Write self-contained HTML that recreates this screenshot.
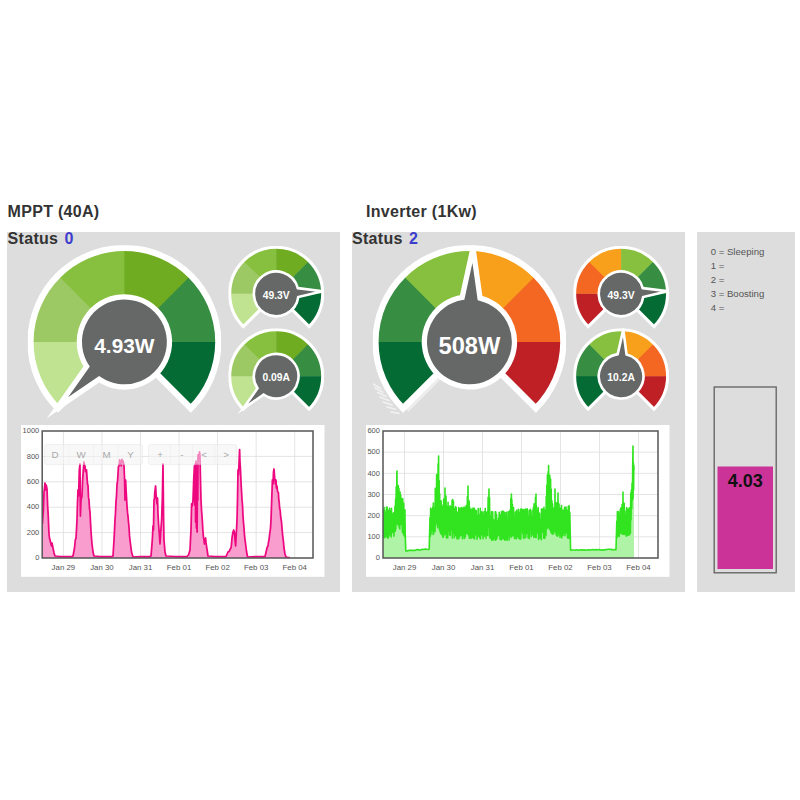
<!DOCTYPE html>
<html><head><meta charset="utf-8"><title>Dashboard</title>
<style>
html,body{margin:0;padding:0;background:#fff;}
body{width:800px;height:800px;position:relative;overflow:hidden;font-family:"Liberation Sans",sans-serif;}
.panel{position:absolute;background:#ddd;top:231.8px;height:359.8px;}
.h{position:absolute;font-weight:bold;font-size:16px;color:#333;white-space:nowrap;line-height:16px;letter-spacing:0.3px;}
.h b{color:#3d3dcc;margin-left:6.2px;}
.legend{position:absolute;left:710.7px;top:245.3px;font-size:9.6px;line-height:13.85px;color:#555;white-space:nowrap;}
svg{position:absolute;left:0;top:0;}
svg text{font-family:"Liberation Sans",sans-serif;}
.val{z-index:2;position:absolute;left:717.5px;width:55.5px;top:471.7px;text-align:center;font-weight:bold;font-size:18px;line-height:18px;color:#111;}
</style></head><body>
<div class="panel" style="left:7px;width:332.5px"></div>
<div class="panel" style="left:352px;width:332.5px"></div>
<div class="panel" style="left:697px;width:98px"></div>
<div class="h" style="left:7.6px;top:203.6px">MPPT (40A)</div>
<div class="h" style="left:366px;top:203.6px">Inverter (1Kw)</div>
<div class="h" style="left:7.6px;top:231px">Status<b>0</b></div>
<div class="h" style="left:352px;top:231px">Status<b>2</b></div>
<div class="legend">0 = Sleeping<br>1 =<br>2 =<br>3 = Boosting<br>4 =</div>
<div class="val">4.03</div>
<svg width="800" height="800" viewBox="0 0 800 800">
<rect x="717.5" y="466.5" width="55.5" height="102.5" fill="#cc3399"/><rect x="714.2" y="387" width="62" height="185.8" fill="none" stroke="#606060" stroke-width="1.3"/>
<clipPath id="gc1"><rect x="27.68" y="245.18" width="193.43" height="193.43"/></clipPath><g clip-path="url(#gc1)">
<path d="M124.4 341.9L58 408.3A93.9 93.9 0 0 1 30.51 340.92Z" fill="#c0e392"/>
<path d="M124.4 341.9L30.5 341.9A93.9 93.9 0 0 1 58.7 274.81Z" fill="#9dc965"/>
<path d="M124.4 341.9L58 275.5A93.9 93.9 0 0 1 125.38 248.01Z" fill="#87c03f"/>
<path d="M124.4 341.9L124.4 248A93.9 93.9 0 0 1 191.49 276.2Z" fill="#70ac21"/>
<path d="M124.4 341.9L190.8 275.5A93.9 93.9 0 0 1 218.29 342.88Z" fill="#378d42"/>
<path d="M124.4 341.9L218.3 341.9A93.9 93.9 0 0 1 190.1 408.99Z" fill="#046b34"/>
<path d="M58 408.3A93.9 93.9 0 1 1 190.8 408.3L124.4 341.9Z" fill="none" stroke="#fff" stroke-width="6.2" stroke-linejoin="miter" stroke-miterlimit="10"/>

<path d="M99.17 379.25L57.43 407.72L86.62 366.47A45.07 45.07 0 1 1 99.17 379.25Z" fill="#666867" stroke="#fff" stroke-width="5.27" stroke-linejoin="miter" stroke-miterlimit="10"/>
<text x="124.4" y="352.51" font-size="20.85" font-weight="bold" fill="#fff" text-anchor="middle">4.93W</text>
</g>
<clipPath id="gc2"><rect x="228.3" y="245.91" width="95.79" height="95.79"/></clipPath><g clip-path="url(#gc2)">
<path d="M276.2 293.8L243.32 326.68A46.5 46.5 0 0 1 229.7 293.31Z" fill="#c0e392"/>
<path d="M276.2 293.8L229.7 293.8A46.5 46.5 0 0 1 243.67 260.58Z" fill="#9dc965"/>
<path d="M276.2 293.8L243.32 260.92A46.5 46.5 0 0 1 276.69 247.3Z" fill="#87c03f"/>
<path d="M276.2 293.8L276.2 247.3A46.5 46.5 0 0 1 309.42 261.27Z" fill="#70ac21"/>
<path d="M276.2 293.8L309.08 260.92A46.5 46.5 0 0 1 322.7 294.29Z" fill="#378d42"/>
<path d="M276.2 293.8L322.7 293.8A46.5 46.5 0 0 1 308.73 327.02Z" fill="#046b34"/>
<path d="M243.32 326.68A46.5 46.5 0 1 1 309.08 326.68L276.2 293.8Z" fill="none" stroke="#fff" stroke-width="3.1" stroke-linejoin="miter" stroke-miterlimit="10"/>

<path d="M297.8 288.17L322.63 291.24L298.29 297.03A22.32 22.32 0 1 1 297.8 288.17Z" fill="#666867" stroke="#fff" stroke-width="2.63" stroke-linejoin="miter" stroke-miterlimit="10"/>
<text x="276.2" y="299.05" font-size="10.32" font-weight="bold" fill="#fff" text-anchor="middle">49.3V</text>
</g>
<clipPath id="gc3"><rect x="228.3" y="328.31" width="95.79" height="95.79"/></clipPath><g clip-path="url(#gc3)">
<path d="M276.2 376.2L243.32 409.08A46.5 46.5 0 0 1 229.7 375.71Z" fill="#c0e392"/>
<path d="M276.2 376.2L229.7 376.2A46.5 46.5 0 0 1 243.67 342.98Z" fill="#9dc965"/>
<path d="M276.2 376.2L243.32 343.32A46.5 46.5 0 0 1 276.69 329.7Z" fill="#87c03f"/>
<path d="M276.2 376.2L276.2 329.7A46.5 46.5 0 0 1 309.42 343.67Z" fill="#70ac21"/>
<path d="M276.2 376.2L309.08 343.32A46.5 46.5 0 0 1 322.7 376.69Z" fill="#378d42"/>
<path d="M276.2 376.2L322.7 376.2A46.5 46.5 0 0 1 308.73 409.42Z" fill="#046b34"/>
<path d="M243.32 409.08A46.5 46.5 0 1 1 309.08 409.08L276.2 376.2Z" fill="none" stroke="#fff" stroke-width="3.1" stroke-linejoin="miter" stroke-miterlimit="10"/>

<path d="M263.67 394.67L242.98 408.73L257.47 388.34A22.32 22.32 0 1 1 263.67 394.67Z" fill="#666867" stroke="#fff" stroke-width="2.63" stroke-linejoin="miter" stroke-miterlimit="10"/>
<text x="276.2" y="381.45" font-size="10.32" font-weight="bold" fill="#fff" text-anchor="middle">0.09A</text>
</g>
<clipPath id="gc4"><rect x="372.68" y="245.18" width="193.43" height="193.43"/></clipPath><g clip-path="url(#gc4)">
<path d="M469.4 341.9L403 408.3A93.9 93.9 0 0 1 375.51 340.92Z" fill="#046b34"/>
<path d="M469.4 341.9L375.5 341.9A93.9 93.9 0 0 1 403.7 274.81Z" fill="#378d42"/>
<path d="M469.4 341.9L403 275.5A93.9 93.9 0 0 1 470.38 248.01Z" fill="#87c03f"/>
<path d="M469.4 341.9L469.4 248A93.9 93.9 0 0 1 536.49 276.2Z" fill="#f8a01b"/>
<path d="M469.4 341.9L535.8 275.5A93.9 93.9 0 0 1 563.29 342.88Z" fill="#f46722"/>
<path d="M469.4 341.9L563.3 341.9A93.9 93.9 0 0 1 535.1 408.99Z" fill="#bf2025"/>
<path d="M403 408.3A93.9 93.9 0 1 1 535.8 408.3L469.4 341.9Z" fill="none" stroke="#fff" stroke-width="6.2" stroke-linejoin="miter" stroke-miterlimit="10"/>
<g stroke="#fff" fill="none" stroke-linecap="round"><g stroke-width="1.7" stroke-opacity="0.6"><path d="M373 384L380.5 388.3"/><path d="M375 388L383 392.2"/><path d="M377.5 392.3L386 396.3"/><path d="M380 397L389 400.5"/><path d="M383 402L392 405"/><path d="M387 407L395.5 409.2"/><path d="M391 412L399 413.3"/></g><path d="M440.5 376.5L407 410" stroke-width="4.5" stroke-opacity="0.5" stroke-linecap="butt"/></g>
<path d="M462.15 297.42L473 248.07L480.04 298.1A45.07 45.07 0 1 1 462.15 297.42Z" fill="#666867" stroke="#fff" stroke-width="5.27" stroke-linejoin="miter" stroke-miterlimit="10"/>
<text x="469.4" y="353.9" font-size="23.7" font-weight="bold" fill="#fff" text-anchor="middle">508W</text>
</g>
<clipPath id="gc5"><rect x="573.21" y="245.91" width="95.79" height="95.79"/></clipPath><g clip-path="url(#gc5)">
<path d="M621.1 293.8L588.22 326.68A46.5 46.5 0 0 1 574.6 293.31Z" fill="#bf2025"/>
<path d="M621.1 293.8L574.6 293.8A46.5 46.5 0 0 1 588.57 260.58Z" fill="#f46722"/>
<path d="M621.1 293.8L588.22 260.92A46.5 46.5 0 0 1 621.59 247.3Z" fill="#f8a01b"/>
<path d="M621.1 293.8L621.1 247.3A46.5 46.5 0 0 1 654.32 261.27Z" fill="#87c03f"/>
<path d="M621.1 293.8L653.98 260.92A46.5 46.5 0 0 1 667.6 294.29Z" fill="#378d42"/>
<path d="M621.1 293.8L667.6 293.8A46.5 46.5 0 0 1 653.63 327.02Z" fill="#046b34"/>
<path d="M588.22 326.68A46.5 46.5 0 1 1 653.98 326.68L621.1 293.8Z" fill="none" stroke="#fff" stroke-width="3.1" stroke-linejoin="miter" stroke-miterlimit="10"/>

<path d="M642.7 288.17L667.53 291.24L643.19 297.03A22.32 22.32 0 1 1 642.7 288.17Z" fill="#666867" stroke="#fff" stroke-width="2.63" stroke-linejoin="miter" stroke-miterlimit="10"/>
<text x="621.1" y="299.05" font-size="10.32" font-weight="bold" fill="#fff" text-anchor="middle">49.3V</text>
</g>
<clipPath id="gc6"><rect x="573.21" y="328.31" width="95.79" height="95.79"/></clipPath><g clip-path="url(#gc6)">
<path d="M621.1 376.2L588.22 409.08A46.5 46.5 0 0 1 574.6 375.71Z" fill="#046b34"/>
<path d="M621.1 376.2L574.6 376.2A46.5 46.5 0 0 1 588.57 342.98Z" fill="#378d42"/>
<path d="M621.1 376.2L588.22 343.32A46.5 46.5 0 0 1 621.59 329.7Z" fill="#87c03f"/>
<path d="M621.1 376.2L621.1 329.7A46.5 46.5 0 0 1 654.32 343.67Z" fill="#f8a01b"/>
<path d="M621.1 376.2L653.98 343.32A46.5 46.5 0 0 1 667.6 376.69Z" fill="#f46722"/>
<path d="M621.1 376.2L667.6 376.2A46.5 46.5 0 0 1 653.63 409.42Z" fill="#bf2025"/>
<path d="M588.22 409.08A46.5 46.5 0 1 1 653.98 409.08L621.1 376.2Z" fill="none" stroke="#fff" stroke-width="3.1" stroke-linejoin="miter" stroke-miterlimit="10"/>

<path d="M617.7 354.14L623.29 329.75L626.56 354.56A22.32 22.32 0 1 1 617.7 354.14Z" fill="#666867" stroke="#fff" stroke-width="2.63" stroke-linejoin="miter" stroke-miterlimit="10"/>
<text x="621.1" y="381.45" font-size="10.32" font-weight="bold" fill="#fff" text-anchor="middle">10.2A</text>
</g>
<rect x="21" y="425" width="303.5" height="151.8" fill="#fff"/>
<path d="M42.2 532.6H313M42.2 507.2H313M42.2 481.8H313M42.2 456.4H313M63.4 431V558M101.95 431V558M140.5 431V558M179.05 431V558M217.6 431V558M256.15 431V558M294.7 431V558" stroke="#ddd" stroke-width="0.8" fill="none"/>
<clipPath id="cc7"><rect x="42.2" y="431" width="270.8" height="127"/></clipPath><g clip-path="url(#cc7)">
<path d="M42.4 524L42.9 516.73L43.4 510L44 492L44.5 488.09L45 483L45.6 490L46.2 485L47 489L47.6 505L48.2 515L49 534L49.5 538.25L50 540L50.5 541.92L51 544L51.6 546L52 543L52.5 545.51L53 548L54 553L55 556L60 556.5L72 556.5L73 556L74.5 548L75.3 540L76 538L76.5 529.35L77 520L77.5 502.66L78 490L78.6 496L79.3 470L80 464L80.4 516L81 500L81.5 498.1L82 496L82.6 480L83.3 470L84 462L84.5 465.71L85 466L85.5 471.69L86 470L86.5 469.93L87 477.17L87.5 484L88 485.4L88.5 497.41L89 500L89.5 508.71L90 511.89L90.5 522L91 531.27L91.5 538.05L92 544L93 552L94 556L100 556.5L112 556.5L113 556L114 540L114.5 530.6L115 520L115.5 512.74L116 501.41L116.5 496L117 483.96L117.5 481.64L118 474L118.4 466.7L118.8 466.18L119.2 464.75L119.6 459.95L120 464L120.4 462.6L120.8 461.36L121.2 465.88L121.6 460.58L122 459.4L122.5 462.12L123 461L123.5 463.5L124 466L124.6 480L125 500L125.6 480L126.2 492L127 506L127.5 512.39L128 516.42L128.5 522L129 527.07L129.5 535.67L130 540L131.5 552L133 557L140 556.5L150 556.5L151 556L152 544L152.5 536.6L153 526L153.5 530L154 500L154.4 498.95L154.8 492L155.6 486L156.3 498L157 504L157.5 498L158 514L158.5 523.05L159 530L159.5 536.46L160 544L160.6 534L161 528L161.6 520L162.3 500L163 464L163.6 520L164 540L165 552L166 556L175 556.5L187 556.5L188.5 555L190 550L190.5 539.32L191 530L191.6 504L192.3 506L193 500L193.7 480L194.4 466L194.8 505L195.2 464L195.6 522L196 461L196.4 528L196.8 463L197.1 532L197.5 468L197.8 500L198 455L198.5 454.53L199 460L199.5 451.98L200 456L200.5 480L201 500L201.5 509.86L202 516L202.5 523.53L203 532L203.47 537.07L203.93 539.71L204.4 544L205 540L205.6 538L206 542.4L206.4 545.31L206.8 548L208 556L215 556.5L226 556.5L228 552L229.5 551L230 549.44L230.5 548.63L231 548L231.5 543.86L232 538L232.5 534.9L233 532L233.7 530L234.4 532L235 540L235.6 546L236.3 534L237 520L237.5 500L238 470L238.4 474.99L238.8 468L239.6 449.6L240 462L240.4 468L241.2 486L241.6 492.07L242 500L242.5 505.01L243 516L243.5 522.65L244 528L244.4 533.97L244.8 538L245.6 544L246.6 552L247.6 557L255 556.5L265 556.5L267 548L267.5 546.65L268 546L268.5 542.13L269 540L269.5 535.48L270 532L270.5 528.08L271 520L271.7 500L272.4 480L273 484L273.5 472L274 469L274.7 478L275.4 484L276 480L276.4 488L277 486L277.5 491.49L278 492L278.4 492.68L278.8 500L279.2 502.08L279.6 508L280.2 510.49L280.8 518L281.4 520.84L282 528L282.5 534.04L283 538L283.5 542.32L284 548L285 554L286 557L288 557.5L290 557.6L290 558L42.4 558Z" fill="#f99dce"/>
<path d="M42.4 524L42.9 516.73L43.4 510L44 492L44.5 488.09L45 483L45.6 490L46.2 485L47 489L47.6 505L48.2 515L49 534L49.5 538.25L50 540L50.5 541.92L51 544L51.6 546L52 543L52.5 545.51L53 548L54 553L55 556L60 556.5L72 556.5L73 556L74.5 548L75.3 540L76 538L76.5 529.35L77 520L77.5 502.66L78 490L78.6 496L79.3 470L80 464L80.4 516L81 500L81.5 498.1L82 496L82.6 480L83.3 470L84 462L84.5 465.71L85 466L85.5 471.69L86 470L86.5 469.93L87 477.17L87.5 484L88 485.4L88.5 497.41L89 500L89.5 508.71L90 511.89L90.5 522L91 531.27L91.5 538.05L92 544L93 552L94 556L100 556.5L112 556.5L113 556L114 540L114.5 530.6L115 520L115.5 512.74L116 501.41L116.5 496L117 483.96L117.5 481.64L118 474L118.4 466.7L118.8 466.18L119.2 464.75L119.6 459.95L120 464L120.4 462.6L120.8 461.36L121.2 465.88L121.6 460.58L122 459.4L122.5 462.12L123 461L123.5 463.5L124 466L124.6 480L125 500L125.6 480L126.2 492L127 506L127.5 512.39L128 516.42L128.5 522L129 527.07L129.5 535.67L130 540L131.5 552L133 557L140 556.5L150 556.5L151 556L152 544L152.5 536.6L153 526L153.5 530L154 500L154.4 498.95L154.8 492L155.6 486L156.3 498L157 504L157.5 498L158 514L158.5 523.05L159 530L159.5 536.46L160 544L160.6 534L161 528L161.6 520L162.3 500L163 464L163.6 520L164 540L165 552L166 556L175 556.5L187 556.5L188.5 555L190 550L190.5 539.32L191 530L191.6 504L192.3 506L193 500L193.7 480L194.4 466L194.8 505L195.2 464L195.6 522L196 461L196.4 528L196.8 463L197.1 532L197.5 468L197.8 500L198 455L198.5 454.53L199 460L199.5 451.98L200 456L200.5 480L201 500L201.5 509.86L202 516L202.5 523.53L203 532L203.47 537.07L203.93 539.71L204.4 544L205 540L205.6 538L206 542.4L206.4 545.31L206.8 548L208 556L215 556.5L226 556.5L228 552L229.5 551L230 549.44L230.5 548.63L231 548L231.5 543.86L232 538L232.5 534.9L233 532L233.7 530L234.4 532L235 540L235.6 546L236.3 534L237 520L237.5 500L238 470L238.4 474.99L238.8 468L239.6 449.6L240 462L240.4 468L241.2 486L241.6 492.07L242 500L242.5 505.01L243 516L243.5 522.65L244 528L244.4 533.97L244.8 538L245.6 544L246.6 552L247.6 557L255 556.5L265 556.5L267 548L267.5 546.65L268 546L268.5 542.13L269 540L269.5 535.48L270 532L270.5 528.08L271 520L271.7 500L272.4 480L273 484L273.5 472L274 469L274.7 478L275.4 484L276 480L276.4 488L277 486L277.5 491.49L278 492L278.4 492.68L278.8 500L279.2 502.08L279.6 508L280.2 510.49L280.8 518L281.4 520.84L282 528L282.5 534.04L283 538L283.5 542.32L284 548L285 554L286 557L288 557.5L290 557.6" fill="none" stroke="#ee0880" stroke-width="1.75" stroke-linejoin="round"/></g>
<rect x="42.2" y="431" width="270.8" height="127" fill="none" stroke="#555" stroke-width="1.5"/>
<g font-size="7.85" fill="#545454">
<text x="39.3" y="560.2" text-anchor="end" font-size="7.5">0</text>
<text x="39.3" y="534.8" text-anchor="end" font-size="7.5">200</text>
<text x="39.3" y="509.4" text-anchor="end" font-size="7.5">400</text>
<text x="39.3" y="484" text-anchor="end" font-size="7.5">600</text>
<text x="39.3" y="458.6" text-anchor="end" font-size="7.5">800</text>
<text x="39.3" y="433.2" text-anchor="end" font-size="7.5">1000</text>
<text x="63.4" y="570.4" text-anchor="middle">Jan 29</text>
<text x="101.95" y="570.4" text-anchor="middle">Jan 30</text>
<text x="140.5" y="570.4" text-anchor="middle">Jan 31</text>
<text x="179.05" y="570.4" text-anchor="middle">Feb 01</text>
<text x="217.6" y="570.4" text-anchor="middle">Feb 02</text>
<text x="256.15" y="570.4" text-anchor="middle">Feb 03</text>
<text x="294.7" y="570.4" text-anchor="middle">Feb 04</text>
</g>
<g>
<rect x="44.6" y="444.6" width="97.8" height="20" rx="2" fill="#f2f2f2" fill-opacity="0.55" stroke="#d0d0d0" stroke-opacity="0.38" stroke-width="0.7"/>
<rect x="148.4" y="444.6" width="88.4" height="20" rx="2" fill="#f2f2f2" fill-opacity="0.55" stroke="#d0d0d0" stroke-opacity="0.38" stroke-width="0.7"/>
<path d="M69 444.6V464.6M93.5 444.6V464.6M118 444.6V464.6M170.5 444.6V464.6M192.6 444.6V464.6M214.7 444.6V464.6" stroke="#ddd" stroke-opacity="0.3" stroke-width="0.7"/>
<g font-size="9.8" fill="#aaa" text-anchor="middle">
<text x="55" y="457.6">D</text>
<text x="81" y="457.6">W</text>
<text x="106.5" y="457.6">M</text>
<text x="130.5" y="457.6">Y</text>
<text x="160" y="457.6">+</text>
<text x="182" y="457.6">-</text>
<text x="204" y="457.6">&lt;</text>
<text x="226" y="457.6">&gt;</text>
</g></g>
<rect x="366" y="425" width="303.5" height="151.8" fill="#fff"/>
<path d="M383 536.83H658M383 515.67H658M383 494.5H658M383 473.33H658M383 452.17H658M404.5 431V558M443.5 431V558M482.5 431V558M521.5 431V558M560.5 431V558M599.5 431V558M638.5 431V558" stroke="#ddd" stroke-width="0.8" fill="none"/>
<clipPath id="cc8"><rect x="383" y="431" width="275" height="127"/></clipPath><g clip-path="url(#cc8)">
<path d="M383 509.79L383.25 533.31L383.48 512.07L383.78 537.4L384.1 507.61L384.41 537.51L384.64 510.28L385.03 537.49L385.29 512.86L385.7 534.43L386 519.22L386.23 530.89L386.51 507.08L386.75 536.92L387.14 507.07L387.47 533.95L387.77 510.9L388 538.24L388.26 513.1L388.57 536.94L388.9 510L389.18 531.8L389.54 508.19L389.88 534.84L390.27 514.82L390.55 528.93L390.8 510.65L391.17 536.95L391.48 508.37L391.84 531.81L392.17 518.1L392.46 532.52L392.79 513.72L393.11 530.7L393.51 512.8L393.87 536.29L394.23 513.82L394.65 527.87L394.92 506.21L395.28 531.18L395.59 498.91L395.83 528.91L396.21 486.88L396.48 523.91L396.87 473.81L397 471L397.18 519.38L397.58 490.84L397.97 524.85L398.27 485.44L398.67 515.99L398.92 488.24L399.19 527.61L399.5 495.34L399.78 529.07L400.08 492.17L400.41 518.71L400.77 495.22L401.11 524.6L401.34 505.33L401.72 522.55L402.1 498.6L402.4 532.22L402.75 498.86L402.98 532.68L403.23 503.18L403.46 534.29L403.71 503.33L404.01 535.44L404.4 511.5L404.65 536.78L404.94 509.72L405.19 533.08L405.8 550.97L407.3 550.86L408.8 550.41L410.3 550.3L411.8 550.36L413.3 550.17L414.8 550.49L416.3 549.83L417.8 549.59L419.3 550.21L420.8 549.74L422.3 549.31L423.8 549.5L425.3 548.95L426.8 549.23L428.3 549.46L429.2 549L430 517.49L430.36 536.4L430.65 508.15L431.03 534.13L431.4 508.94L431.67 530.66L432.08 516.12L432.47 530.24L432.83 507.12L433.16 534.54L433.38 502.97L433.66 534.09L434.02 511.92L434.33 523.52L434.74 507.76L435.04 531.42L435.3 488.35L435.56 525.58L435.96 496.54L436.28 523.32L436.66 474.65L437.01 514.75L437.39 482.58L437.7 527.81L438.08 463.89L438.46 508.05L438.6 456L438.76 524.6L439.17 480.52L439.42 529.69L439.67 493.76L440.06 532.04L440.44 507.07L440.79 533.68L441.12 500.72L441.34 526.5L441.69 506.37L442.1 535.07L442.5 513.47L442.76 537.2L443.04 504.98L443.37 536.96L443.68 499.09L444.08 535.3L444.39 500.22L444.79 533.57L445 488L445.2 532.51L445.52 498.4L445.75 534.35L446 496.02L446.38 537.65L446.7 509.33L447.03 536.8L447.35 506.29L447.73 538.1L448.06 502.35L448.34 531.34L448.66 507.03L449.03 529L449.34 508.26L449.66 535.04L450.02 505.91L450.34 535.41L450.75 509.65L451.15 528.29L451.42 506.44L451.83 530.01L452.08 500.37L452.38 538.2L452.65 499.54L453.01 530.76L453.41 501.08L453.77 533.14L454.02 514.61L454.43 537.63L454.84 508.31L455.16 528.92L455.55 506.82L455.85 535.57L456.14 507.29L456.42 533.29L456.65 511.53L456.96 538.68L457.24 512.84L457.56 538.75L457.98 516L458.4 538.82L458.67 507.52L459.04 538.22L459.29 510.74L459.69 532.73L459.96 508.5L460.37 535.84L460.73 507.97L460.96 534.37L461.27 507.73L461.67 534.88L462.05 507.51L462.44 538.82L462.84 510.5L463.13 535.52L463.53 508.24L463.78 535.68L464.04 506.96L464.3 538.54L464.56 508.32L464.84 532.68L465.12 510.41L465.37 536.98L465.59 507.41L465.82 532.85L466.15 505.46L466.46 528.14L466.7 510.69L467.01 533.38L467.4 496.59L467.72 529.14L468 486L468.14 534.53L468.52 503.95L468.87 535.98L469.16 501.1L469.4 538.21L469.77 507.42L470.03 538.2L470.41 517.97L470.77 537.47L471.04 509.57L471.35 538.14L471.66 509.31L472.07 529.92L472.4 509.16L472.81 537.55L473.1 508L473.4 536.34L473.72 508.84L474.04 538.8L474.31 508.21L474.61 538.85L474.84 509.7L475.11 535.43L475.43 515.91L475.78 533.97L476.18 510.6L476.46 530.12L476.71 515.48L477.06 539.15L477.45 518.7L477.79 533.95L478.18 508.46L478.5 536.54L478.89 516.97L479.27 535.64L479.67 514.77L480.03 538.42L480.26 508.42L480.55 538.86L480.94 512.79L481.28 534.98L481.64 511.81L481.86 532.77L482.23 511.99L482.56 534.47L482.79 515.61L483.06 538.65L483.33 515.47L483.59 533.38L484.01 511.84L484.31 536.18L484.66 516.1L485.01 534.43L485.24 508.49L485.51 533.16L485.79 512.83L486.02 538.35L486.29 514.43L486.65 533.89L486.93 512.1L487.24 535.51L487.48 515.24L487.74 526.86L488.15 497.41L488.46 527.57L488.87 495.19L489 489L489.15 535.85L489.56 497.88L489.89 538.05L490.22 516.01L490.47 531.43L490.79 516.27L491.15 538.81L491.55 511.84L491.77 540.09L492.09 513.26L492.37 540.04L492.66 511.86L493.05 540.3L493.42 519.47L493.66 532.51L494.02 520.73L494.3 538.8L494.6 522.76L494.94 538.88L495.24 511.79L495.47 540.16L495.86 511.96L496.27 539.57L496.54 514.52L496.8 538.8L497.21 520.65L497.59 536.46L498 521.82L498.33 535.45L498.56 518.04L498.87 535.06L499.21 512.36L499.44 532.69L499.69 514.37L499.98 539.32L500.35 522.65L500.62 536.21L500.9 515.34L501.2 539.95L501.45 511.53L501.85 537.79L502.11 521L502.53 538.19L502.78 511.14L503.02 539.01L503.26 511.37L503.53 537.06L503.93 517.81L504.23 538.46L504.55 512.39L504.84 540.24L505.12 521.83L505.36 537.67L505.71 519.62L505.97 539.43L506.24 512.3L506.55 531.91L506.94 519.64L507.17 540.28L507.53 520.01L507.84 536.76L508.06 511.83L508.47 533.74L508.86 521.43L509.13 539.96L509.38 511.42L509.74 530.17L510.1 510L510.47 535.71L510.8 498.55L511.18 537.38L511.4 494L511.58 532.75L511.86 499.66L512.13 534.24L512.49 504.64L512.73 536.07L513.06 507.98L513.33 535.28L513.55 507.67L513.86 530.21L514.21 517.78L514.53 538.6L514.8 519.98L515.16 538.19L515.38 512.02L515.74 537.35L516.01 514.63L516.41 538.66L516.64 510.21L516.94 534.65L517.2 517.01L517.57 536.6L517.83 520.53L518.12 532.86L518.38 509.33L518.75 538.28L519.16 512.31L519.42 538.68L519.72 514.89L520.13 539.01L520.43 509.47L520.85 539.03L521.08 508.72L521.38 531.79L521.77 516.18L522.19 531.3L522.48 509.47L522.89 533.95L523.11 515.14L523.41 537.76L523.69 509.49L523.92 538.39L524.21 520.61L524.45 530.86L524.71 511.16L525.1 532.96L525.4 509.03L525.72 537.69L526.12 509.63L526.41 531.72L526.64 511.57L527.02 533.47L527.25 508.76L527.48 531.24L527.75 516.33L528.15 537.62L528.43 520.28L528.77 538.02L529.14 510.27L529.41 538.75L529.78 519.27L530.13 530.56L530.35 509.4L530.67 530.28L531.08 510.74L531.35 536.54L531.67 519.27L531.92 532.38L532.29 517.13L532.67 534.67L532.95 509.82L533.25 532.33L533.48 506.93L533.85 537.49L534.08 503.71L534.41 536.88L534.83 513.38L535.25 537.22L535.49 497.41L535.81 531.37L536 494L536.11 537.47L536.42 505.68L536.77 532.48L537.16 511.6L537.41 531.9L537.68 510.79L537.98 533.83L538.24 507.77L538.51 539.47L538.91 513.08L539.19 538.25L539.61 513.28L539.88 534.08L540.23 522.26L540.47 537.74L540.85 518.8L541.25 539.77L541.53 509.12L541.79 530.81L542.13 519.76L542.42 532.16L542.73 509.14L543.11 530.58L543.35 512.79L543.69 538.22L543.99 507.29L544.25 537.79L544.59 512.79L544.85 538.36L545.13 511.77L545.39 535.97L545.65 509.65L545.98 535.61L546.22 496.61L546.55 528.1L546.79 485.18L547.15 528.44L547.42 474.85L547.83 527.45L548.17 471.81L548.47 514.2L548.6 465.6L548.89 525.71L549.15 482.38L549.41 529.46L549.81 475.29L550.19 527.16L550.59 478.99L550.84 531.98L551.17 489.13L551.58 533.28L551.92 500.73L552.24 533.98L552.52 503.82L552.92 534.1L553.24 508.11L553.65 533.7L553.9 510.57L554.32 531.05L554.55 507.6L554.84 523.31L555 489L555.19 525.2L555.44 503.61L555.7 532.78L556.09 507.75L556.35 535.35L556.65 502.78L556.95 536.03L557.22 505.43L557.62 536.26L557.95 504.39L558 493L558.18 527.28L558.42 503.15L558.75 531.88L559.03 504.03L559.37 535.03L559.72 507.64L560.03 537.44L560.37 508.58L560.64 531.59L561.01 508.5L561.27 535.27L561.51 505.56L561.82 537.83L562.12 509.81L562.35 533.83L562.59 513.73L562.96 535.42L563.2 510.25L563.49 529.58L563.74 516.51L564.16 532.89L564.54 507.33L564.96 535.68L565.37 518.08L565.62 532.21L566.03 507.11L566.32 532.64L566.57 517.6L566.84 531.75L567.09 510.48L567.5 537.73L567.77 510.19L568.05 538.27L568.31 506.25L568.72 533.42L569.12 505.84L569.49 538.41L569.82 512.26L570.6 550.3L572.1 550.03L573.6 550.04L575.1 550.27L576.6 549.63L578.1 550.33L579.6 550.02L581.1 549.82L582.6 550.13L584.1 549.69L585.6 550.26L587.1 549.92L588.6 549.73L590.1 550.04L591.6 549.77L593.1 549.54L594.6 549.98L596.1 549.41L597.6 550.02L599.1 549.55L600.6 549.85L602.1 550.11L603.6 549.78L605.1 549.83L606.6 549.53L608.1 549.27L609.6 549.28L611.1 549.36L612.6 549.72L614.1 549.56L615.6 549.61L616 549.6L616.8 521.05L617.05 537.6L617.4 511.64L617.62 536.58L617.86 513.24L618.12 534.51L618.46 511.69L618.81 535L619.05 520.36L619.32 536.47L619.56 515.36L619.96 531.32L620.26 509.91L620.48 532.23L620.81 508.04L621.16 533.55L621.57 510.36L621.84 526.82L622.07 504.56L622.37 534.08L622.6 505.97L622.82 530.3L623 492L623.23 534.17L623.49 503.67L623.81 530.43L624.19 503.28L624.47 534.44L624.7 514.86L625.08 530.87L625.3 515.28L625.67 533.95L626.04 511.02L626.31 536.15L626.57 507.48L626.86 531.15L627.22 516L627.58 535.48L627.91 509.15L628.29 533.36L628.56 512.46L628.97 535.11L629.37 507.84L629.64 534.52L630.01 514.3L630.38 532.95L630.78 493.15L631.04 520.11L631.39 489.85L631.74 508.8L632.06 483L632.42 499.94L632.72 465.04L633 446L633.06 498.41L633.32 462.39L633.56 489.99L633.81 465.36L634 470L634 558L383 558Z" fill="#aef3a6"/>
<path d="M383 509.79L383.25 533.31L383.48 512.07L383.78 537.4L384.1 507.61L384.41 537.51L384.64 510.28L385.03 537.49L385.29 512.86L385.7 534.43L386 519.22L386.23 530.89L386.51 507.08L386.75 536.92L387.14 507.07L387.47 533.95L387.77 510.9L388 538.24L388.26 513.1L388.57 536.94L388.9 510L389.18 531.8L389.54 508.19L389.88 534.84L390.27 514.82L390.55 528.93L390.8 510.65L391.17 536.95L391.48 508.37L391.84 531.81L392.17 518.1L392.46 532.52L392.79 513.72L393.11 530.7L393.51 512.8L393.87 536.29L394.23 513.82L394.65 527.87L394.92 506.21L395.28 531.18L395.59 498.91L395.83 528.91L396.21 486.88L396.48 523.91L396.87 473.81L397 471L397.18 519.38L397.58 490.84L397.97 524.85L398.27 485.44L398.67 515.99L398.92 488.24L399.19 527.61L399.5 495.34L399.78 529.07L400.08 492.17L400.41 518.71L400.77 495.22L401.11 524.6L401.34 505.33L401.72 522.55L402.1 498.6L402.4 532.22L402.75 498.86L402.98 532.68L403.23 503.18L403.46 534.29L403.71 503.33L404.01 535.44L404.4 511.5L404.65 536.78L404.94 509.72L405.19 533.08L405.8 550.97L407.3 550.86L408.8 550.41L410.3 550.3L411.8 550.36L413.3 550.17L414.8 550.49L416.3 549.83L417.8 549.59L419.3 550.21L420.8 549.74L422.3 549.31L423.8 549.5L425.3 548.95L426.8 549.23L428.3 549.46L429.2 549L430 517.49L430.36 536.4L430.65 508.15L431.03 534.13L431.4 508.94L431.67 530.66L432.08 516.12L432.47 530.24L432.83 507.12L433.16 534.54L433.38 502.97L433.66 534.09L434.02 511.92L434.33 523.52L434.74 507.76L435.04 531.42L435.3 488.35L435.56 525.58L435.96 496.54L436.28 523.32L436.66 474.65L437.01 514.75L437.39 482.58L437.7 527.81L438.08 463.89L438.46 508.05L438.6 456L438.76 524.6L439.17 480.52L439.42 529.69L439.67 493.76L440.06 532.04L440.44 507.07L440.79 533.68L441.12 500.72L441.34 526.5L441.69 506.37L442.1 535.07L442.5 513.47L442.76 537.2L443.04 504.98L443.37 536.96L443.68 499.09L444.08 535.3L444.39 500.22L444.79 533.57L445 488L445.2 532.51L445.52 498.4L445.75 534.35L446 496.02L446.38 537.65L446.7 509.33L447.03 536.8L447.35 506.29L447.73 538.1L448.06 502.35L448.34 531.34L448.66 507.03L449.03 529L449.34 508.26L449.66 535.04L450.02 505.91L450.34 535.41L450.75 509.65L451.15 528.29L451.42 506.44L451.83 530.01L452.08 500.37L452.38 538.2L452.65 499.54L453.01 530.76L453.41 501.08L453.77 533.14L454.02 514.61L454.43 537.63L454.84 508.31L455.16 528.92L455.55 506.82L455.85 535.57L456.14 507.29L456.42 533.29L456.65 511.53L456.96 538.68L457.24 512.84L457.56 538.75L457.98 516L458.4 538.82L458.67 507.52L459.04 538.22L459.29 510.74L459.69 532.73L459.96 508.5L460.37 535.84L460.73 507.97L460.96 534.37L461.27 507.73L461.67 534.88L462.05 507.51L462.44 538.82L462.84 510.5L463.13 535.52L463.53 508.24L463.78 535.68L464.04 506.96L464.3 538.54L464.56 508.32L464.84 532.68L465.12 510.41L465.37 536.98L465.59 507.41L465.82 532.85L466.15 505.46L466.46 528.14L466.7 510.69L467.01 533.38L467.4 496.59L467.72 529.14L468 486L468.14 534.53L468.52 503.95L468.87 535.98L469.16 501.1L469.4 538.21L469.77 507.42L470.03 538.2L470.41 517.97L470.77 537.47L471.04 509.57L471.35 538.14L471.66 509.31L472.07 529.92L472.4 509.16L472.81 537.55L473.1 508L473.4 536.34L473.72 508.84L474.04 538.8L474.31 508.21L474.61 538.85L474.84 509.7L475.11 535.43L475.43 515.91L475.78 533.97L476.18 510.6L476.46 530.12L476.71 515.48L477.06 539.15L477.45 518.7L477.79 533.95L478.18 508.46L478.5 536.54L478.89 516.97L479.27 535.64L479.67 514.77L480.03 538.42L480.26 508.42L480.55 538.86L480.94 512.79L481.28 534.98L481.64 511.81L481.86 532.77L482.23 511.99L482.56 534.47L482.79 515.61L483.06 538.65L483.33 515.47L483.59 533.38L484.01 511.84L484.31 536.18L484.66 516.1L485.01 534.43L485.24 508.49L485.51 533.16L485.79 512.83L486.02 538.35L486.29 514.43L486.65 533.89L486.93 512.1L487.24 535.51L487.48 515.24L487.74 526.86L488.15 497.41L488.46 527.57L488.87 495.19L489 489L489.15 535.85L489.56 497.88L489.89 538.05L490.22 516.01L490.47 531.43L490.79 516.27L491.15 538.81L491.55 511.84L491.77 540.09L492.09 513.26L492.37 540.04L492.66 511.86L493.05 540.3L493.42 519.47L493.66 532.51L494.02 520.73L494.3 538.8L494.6 522.76L494.94 538.88L495.24 511.79L495.47 540.16L495.86 511.96L496.27 539.57L496.54 514.52L496.8 538.8L497.21 520.65L497.59 536.46L498 521.82L498.33 535.45L498.56 518.04L498.87 535.06L499.21 512.36L499.44 532.69L499.69 514.37L499.98 539.32L500.35 522.65L500.62 536.21L500.9 515.34L501.2 539.95L501.45 511.53L501.85 537.79L502.11 521L502.53 538.19L502.78 511.14L503.02 539.01L503.26 511.37L503.53 537.06L503.93 517.81L504.23 538.46L504.55 512.39L504.84 540.24L505.12 521.83L505.36 537.67L505.71 519.62L505.97 539.43L506.24 512.3L506.55 531.91L506.94 519.64L507.17 540.28L507.53 520.01L507.84 536.76L508.06 511.83L508.47 533.74L508.86 521.43L509.13 539.96L509.38 511.42L509.74 530.17L510.1 510L510.47 535.71L510.8 498.55L511.18 537.38L511.4 494L511.58 532.75L511.86 499.66L512.13 534.24L512.49 504.64L512.73 536.07L513.06 507.98L513.33 535.28L513.55 507.67L513.86 530.21L514.21 517.78L514.53 538.6L514.8 519.98L515.16 538.19L515.38 512.02L515.74 537.35L516.01 514.63L516.41 538.66L516.64 510.21L516.94 534.65L517.2 517.01L517.57 536.6L517.83 520.53L518.12 532.86L518.38 509.33L518.75 538.28L519.16 512.31L519.42 538.68L519.72 514.89L520.13 539.01L520.43 509.47L520.85 539.03L521.08 508.72L521.38 531.79L521.77 516.18L522.19 531.3L522.48 509.47L522.89 533.95L523.11 515.14L523.41 537.76L523.69 509.49L523.92 538.39L524.21 520.61L524.45 530.86L524.71 511.16L525.1 532.96L525.4 509.03L525.72 537.69L526.12 509.63L526.41 531.72L526.64 511.57L527.02 533.47L527.25 508.76L527.48 531.24L527.75 516.33L528.15 537.62L528.43 520.28L528.77 538.02L529.14 510.27L529.41 538.75L529.78 519.27L530.13 530.56L530.35 509.4L530.67 530.28L531.08 510.74L531.35 536.54L531.67 519.27L531.92 532.38L532.29 517.13L532.67 534.67L532.95 509.82L533.25 532.33L533.48 506.93L533.85 537.49L534.08 503.71L534.41 536.88L534.83 513.38L535.25 537.22L535.49 497.41L535.81 531.37L536 494L536.11 537.47L536.42 505.68L536.77 532.48L537.16 511.6L537.41 531.9L537.68 510.79L537.98 533.83L538.24 507.77L538.51 539.47L538.91 513.08L539.19 538.25L539.61 513.28L539.88 534.08L540.23 522.26L540.47 537.74L540.85 518.8L541.25 539.77L541.53 509.12L541.79 530.81L542.13 519.76L542.42 532.16L542.73 509.14L543.11 530.58L543.35 512.79L543.69 538.22L543.99 507.29L544.25 537.79L544.59 512.79L544.85 538.36L545.13 511.77L545.39 535.97L545.65 509.65L545.98 535.61L546.22 496.61L546.55 528.1L546.79 485.18L547.15 528.44L547.42 474.85L547.83 527.45L548.17 471.81L548.47 514.2L548.6 465.6L548.89 525.71L549.15 482.38L549.41 529.46L549.81 475.29L550.19 527.16L550.59 478.99L550.84 531.98L551.17 489.13L551.58 533.28L551.92 500.73L552.24 533.98L552.52 503.82L552.92 534.1L553.24 508.11L553.65 533.7L553.9 510.57L554.32 531.05L554.55 507.6L554.84 523.31L555 489L555.19 525.2L555.44 503.61L555.7 532.78L556.09 507.75L556.35 535.35L556.65 502.78L556.95 536.03L557.22 505.43L557.62 536.26L557.95 504.39L558 493L558.18 527.28L558.42 503.15L558.75 531.88L559.03 504.03L559.37 535.03L559.72 507.64L560.03 537.44L560.37 508.58L560.64 531.59L561.01 508.5L561.27 535.27L561.51 505.56L561.82 537.83L562.12 509.81L562.35 533.83L562.59 513.73L562.96 535.42L563.2 510.25L563.49 529.58L563.74 516.51L564.16 532.89L564.54 507.33L564.96 535.68L565.37 518.08L565.62 532.21L566.03 507.11L566.32 532.64L566.57 517.6L566.84 531.75L567.09 510.48L567.5 537.73L567.77 510.19L568.05 538.27L568.31 506.25L568.72 533.42L569.12 505.84L569.49 538.41L569.82 512.26L570.6 550.3L572.1 550.03L573.6 550.04L575.1 550.27L576.6 549.63L578.1 550.33L579.6 550.02L581.1 549.82L582.6 550.13L584.1 549.69L585.6 550.26L587.1 549.92L588.6 549.73L590.1 550.04L591.6 549.77L593.1 549.54L594.6 549.98L596.1 549.41L597.6 550.02L599.1 549.55L600.6 549.85L602.1 550.11L603.6 549.78L605.1 549.83L606.6 549.53L608.1 549.27L609.6 549.28L611.1 549.36L612.6 549.72L614.1 549.56L615.6 549.61L616 549.6L616.8 521.05L617.05 537.6L617.4 511.64L617.62 536.58L617.86 513.24L618.12 534.51L618.46 511.69L618.81 535L619.05 520.36L619.32 536.47L619.56 515.36L619.96 531.32L620.26 509.91L620.48 532.23L620.81 508.04L621.16 533.55L621.57 510.36L621.84 526.82L622.07 504.56L622.37 534.08L622.6 505.97L622.82 530.3L623 492L623.23 534.17L623.49 503.67L623.81 530.43L624.19 503.28L624.47 534.44L624.7 514.86L625.08 530.87L625.3 515.28L625.67 533.95L626.04 511.02L626.31 536.15L626.57 507.48L626.86 531.15L627.22 516L627.58 535.48L627.91 509.15L628.29 533.36L628.56 512.46L628.97 535.11L629.37 507.84L629.64 534.52L630.01 514.3L630.38 532.95L630.78 493.15L631.04 520.11L631.39 489.85L631.74 508.8L632.06 483L632.42 499.94L632.72 465.04L633 446L633.06 498.41L633.32 462.39L633.56 489.99L633.81 465.36L634 470" fill="none" stroke="#31e41f" stroke-width="1.6" stroke-linejoin="round"/></g>
<rect x="383" y="431" width="275" height="127" fill="none" stroke="#555" stroke-width="1.5"/>
<g font-size="7.85" fill="#545454">
<text x="379.9" y="560.2" text-anchor="end" font-size="7.5">0</text>
<text x="379.9" y="539.03" text-anchor="end" font-size="7.5">100</text>
<text x="379.9" y="517.87" text-anchor="end" font-size="7.5">200</text>
<text x="379.9" y="496.7" text-anchor="end" font-size="7.5">300</text>
<text x="379.9" y="475.53" text-anchor="end" font-size="7.5">400</text>
<text x="379.9" y="454.37" text-anchor="end" font-size="7.5">500</text>
<text x="379.9" y="433.2" text-anchor="end" font-size="7.5">600</text>
<text x="404.5" y="570.4" text-anchor="middle">Jan 29</text>
<text x="443.5" y="570.4" text-anchor="middle">Jan 30</text>
<text x="482.5" y="570.4" text-anchor="middle">Jan 31</text>
<text x="521.5" y="570.4" text-anchor="middle">Feb 01</text>
<text x="560.5" y="570.4" text-anchor="middle">Feb 02</text>
<text x="599.5" y="570.4" text-anchor="middle">Feb 03</text>
<text x="638.5" y="570.4" text-anchor="middle">Feb 04</text>
</g>
</svg></body></html>
